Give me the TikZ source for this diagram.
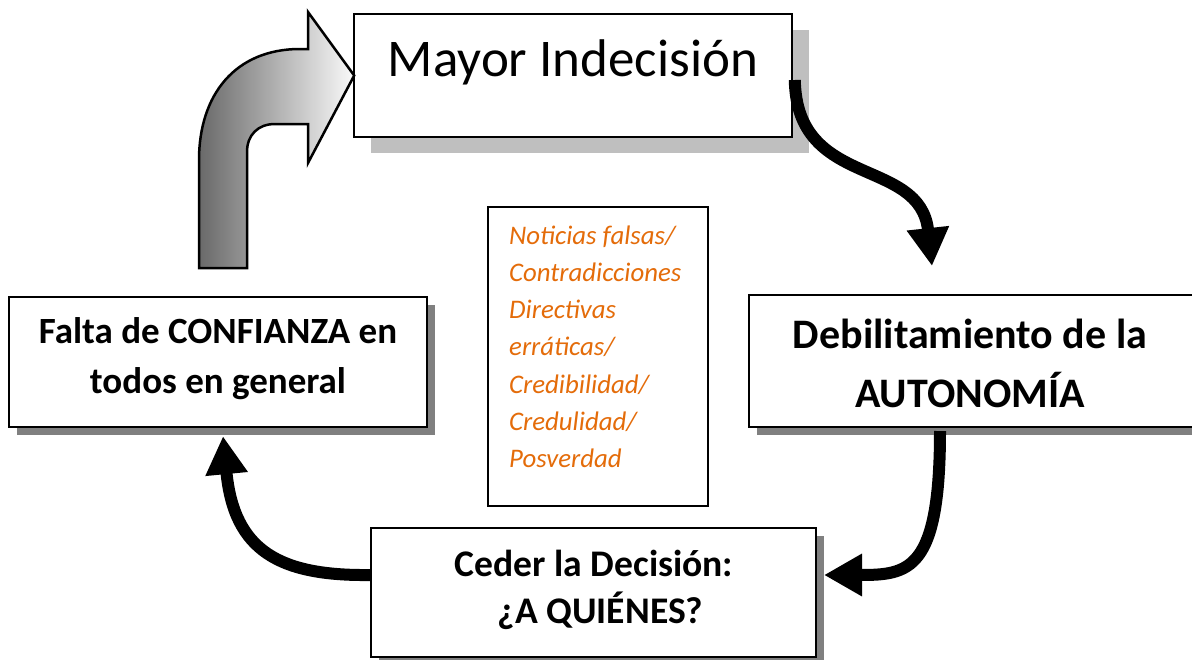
\documentclass[tikz,border=0pt]{standalone}
\usepackage{fontspec}
\setmainfont{Carlito}
\usetikzlibrary{arrows.meta,calc}
\definecolor{shadowlight}{RGB}{191,191,191}
\definecolor{shadowdark}{RGB}{128,128,128}
\definecolor{orangetxt}{RGB}{228,108,10}
\definecolor{arrowgrey}{RGB}{105,105,105}
\definecolor{arrowlight}{RGB}{250,250,250}
\tikzset{
  box/.style={draw=black, line width=2pt, fill=white, rectangle, inner sep=0pt},
  shadowbox/.style={fill=shadowdark, draw=none, rectangle, inner sep=0pt},
  boxtext/.style={inner sep=0pt, anchor=base, align=center},
  cyclearrow/.style={line width=12pt, -{Triangle[length=38pt,width=40pt]}},
}
\begin{document}
\begin{tikzpicture}[x=1pt,y=-1pt]
\useasboundingbox (0,0) rectangle (1192,659);

% shadows
\node[shadowbox, fill=shadowlight, minimum width=438pt, minimum height=123pt] (mayorshadow) at (590,91.5) {};
\node[shadowbox, minimum width=418pt, minimum height=130pt] (faltashadow) at (226,370) {};
\node[shadowbox, minimum width=444pt, minimum height=132pt] (debilshadow) at (979,369) {};
\node[shadowbox, minimum width=445pt, minimum height=129pt] (cedershadow) at (601.5,600.5) {};

% boxes
\node[box, line width=1.6pt, minimum width=438pt, minimum height=123pt] (mayor) at (573,75.5) {};
\node[box, line width=2.4pt, minimum width=418pt, minimum height=130pt] (falta) at (218,362) {};
\node[box, minimum width=444pt, minimum height=132pt] (debil) at (971,361) {};
\node[box, minimum width=445pt, minimum height=129pt] (ceder) at (593.5,592.5) {};
\node[box, minimum width=220pt, minimum height=299pt] (noticias) at (598,356.5) {};

% texts (anchor base = baseline of the last line)
\node[boxtext, font=\fontsize{53}{64}\selectfont] (mayortext) at (573,76) {Mayor Indecisión};
\node[boxtext, font=\bfseries\fontsize{37}{50}\selectfont] (faltatext) at (218,393) {Falta de CONFIANZA en\\todos en general};
\node[boxtext, font=\bfseries\fontsize{42}{59}\selectfont] (debiltext) at (970,407) {Debilitamiento de la\\AUTONOMÍA};
\node[boxtext, font=\bfseries\fontsize{37.6}{47}\selectfont] (cedertext) at (594,623.5) {Ceder la Decisión:\\\hspace*{13pt}¿A QUIÉNES?};
\node[inner sep=0pt, anchor=base west, align=left, text=orangetxt, font=\itshape\fontsize{26.8}{37.3}\selectfont] (noticiastext) at (509,467.8) {Noticias falsas/\\Contradicciones\\Directivas\\erráticas/\\Credibilidad/\\Credulidad/\\Posverdad};

% block arrow from Falta to Mayor
\path[draw=black, line width=2.5pt, line join=miter, left color=arrowgrey, right color=arrowlight]
  (199,268) -- (199,160) .. controls (199,95) and (235,49) .. (300,49) -- (308,49) -- (308,12)
  -- ([xshift=1pt]mayor.west) -- (308,163) -- (308,124) -- (275,124)
  .. controls (258,124) and (247,135) .. (247,152) -- (247,268) -- cycle;

% cycle arrows
\draw[cyclearrow] ([shift={(2,4.5)}]mayor.east) .. controls +(2,110) and +(-12,-110) .. ([shift={(-39,-28)}]debil.north);
\draw[cyclearrow] ([shift={(-31,3)}]debil.south) .. controls +(0,140) and +(85,0) .. ([shift={(7,-17.5)}]ceder.east);
\draw[cyclearrow] ([shift={(0,-17.5)}]ceder.west) .. controls +(-90,1) and +(11,115) .. ([shift={(5,8)}]falta.south);
\end{tikzpicture}
\end{document}
